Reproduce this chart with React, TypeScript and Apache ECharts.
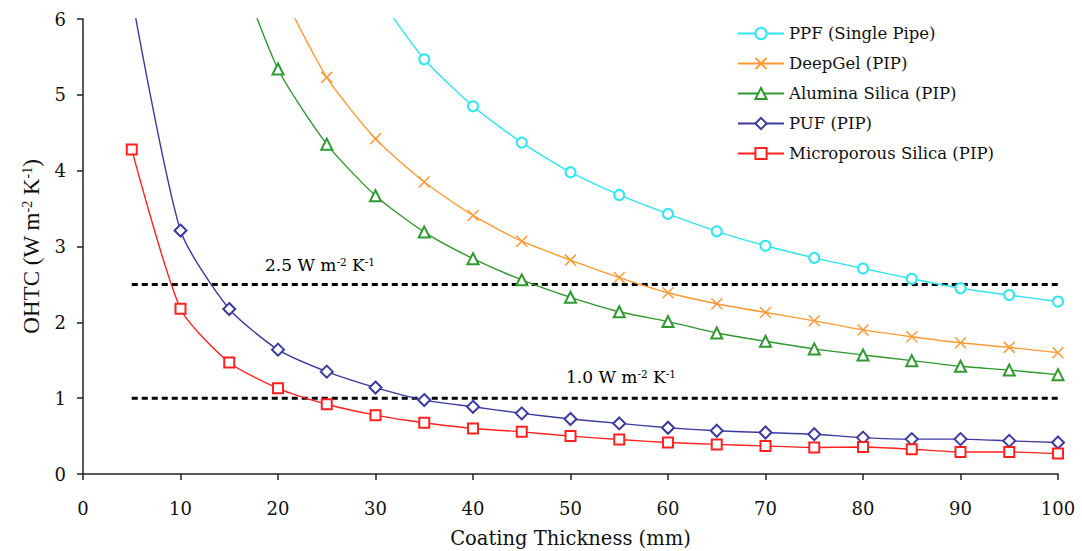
import React, { useEffect, useRef } from "react";
import * as echarts from "echarts";

const THICKNESS = [5, 10, 15, 20, 25, 30, 35, 40, 45, 50, 55, 60, 65, 70, 75, 80, 85, 90, 95, 100];
const PPF = [null, null, null, null, null, 6.35, 5.47, 4.85, 4.37, 3.98, 3.68, 3.43, 3.2, 3.01, 2.85, 2.71, 2.575, 2.45, 2.36, 2.275];
const DEEPGEL = [null, null, null, 6.45, 5.23, 4.42, 3.85, 3.41, 3.07, 2.82, 2.59, 2.39, 2.245, 2.13, 2.02, 1.9, 1.81, 1.73, 1.67, 1.6];
const ALUMINA = [null, null, 7.0, 5.34, 4.35, 3.67, 3.19, 2.84, 2.56, 2.33, 2.14, 2.01, 1.86, 1.75, 1.65, 1.57, 1.495, 1.42, 1.37, 1.31];
const PUF = [6.3, 3.21, 2.175, 1.64, 1.35, 1.14, 0.975, 0.886, 0.8, 0.725, 0.667, 0.61, 0.57, 0.547, 0.525, 0.48, 0.46, 0.46, 0.437, 0.415];
const MICRO = [4.28, 2.18, 1.47, 1.13, 0.92, 0.776, 0.675, 0.6, 0.556, 0.5, 0.455, 0.415, 0.39, 0.37, 0.35, 0.357, 0.327, 0.29, 0.29, 0.27];
const LIMIT_X = [5, 100];
const LIMITS = [2.5, 1.0];
const SERIES_NAMES = ["PPF (Single Pipe)", "DeepGel (PIP)", "Alumina Silica (PIP)", "PUF (PIP)", "Microporous Silica (PIP)"];

const FONT = "'DejaVu Serif', serif";
const TIMES = "'Liberation Serif', serif";
const CROSS = "path://M0,0L10,10M10,0L0,10";

export default function App() {
  const ref = useRef<HTMLDivElement>(null);
  useEffect(() => {
    document.body.style.margin = "0";
    if (!ref.current) return;
    const chart = echarts.init(ref.current, undefined, { renderer: "svg" });
    const pair = (arr: (number | null)[]) => THICKNESS.map((x, i) => [x, arr[i]]);
    const mk = (name: string, data: (number | null)[], color: string, symbol: string, size: number) => ({
      name,
      type: "line",
      data: pair(data),
      smooth: 0.22,
      symbol,
      symbolSize: size,
      showAllSymbol: true,
      lineStyle: { color, width: 1.4 },
      itemStyle: { color, borderColor: color, borderWidth: 1.5 },
      z: 3,
    });
    const limitSeries = LIMITS.map((v) => ({
      name: "limit" + v,
      type: "line",
      data: LIMIT_X.map((x) => [x, v]),
      symbol: "none",
      silent: true,
      lineStyle: { color: "#000", width: 3, type: [6, 4] },
      z: 2,
    }));
    const supRich = {
      n: { fontSize: 17, fontFamily: FONT, color: "#111" },
      s: { fontSize: 10.5, fontFamily: FONT, color: "#111", verticalAlign: "top" },
    };
    chart.setOption({
      animation: false,
      backgroundColor: "#fff",
      grid: { left: 83, right: 24, top: 19, bottom: 77, containLabel: false, outerBoundsMode: "none" },
      legend: {
        data: SERIES_NAMES,
        orient: "vertical",
        left: 732,
        top: 20,
        itemWidth: 46,
        itemHeight: 14,
        itemGap: 13,
        textStyle: { fontSize: 16.5, fontFamily: FONT, color: "#111" },
      },
      xAxis: {
        type: "value",
        min: 0,
        max: 100,
        interval: 10,
        name: "Coating Thickness (mm)",
        nameLocation: "middle",
        nameGap: 54,
        nameTextStyle: { fontSize: 19.5, fontFamily: FONT, color: "#111" },
        axisLine: { lineStyle: { color: "#222", width: 1.5 } },
        axisTick: { show: true, length: 6, lineStyle: { color: "#222", width: 1.5 } },
        axisLabel: { fontSize: 18, fontFamily: FONT, color: "#111", margin: 25 },
        splitLine: { show: false },
      },
      yAxis: {
        type: "value",
        min: 0,
        max: 6,
        interval: 1,
        name: "{n|OHTC (W m}{s|-2}{n| K}{s|-1}{n|)}",
        nameLocation: "middle",
        nameGap: 40,
        nameRotate: 90,
        nameTextStyle: {
          fontSize: 23,
          fontFamily: TIMES,
          color: "#111",
          rich: {
            n: { fontSize: 23, fontFamily: TIMES, color: "#111" },
            s: { fontSize: 14, fontFamily: TIMES, color: "#111", verticalAlign: "top" },
          },
        },
        axisLine: { show: true, lineStyle: { color: "#222", width: 1.5 } },
        axisTick: { show: true, length: 6, lineStyle: { color: "#222", width: 1.5 } },
        axisLabel: { fontSize: 18, fontFamily: FONT, color: "#111", margin: 17 },
        splitLine: { show: false },
      },
      graphic: [
        {
          type: "text",
          x: 265,
          y: 265,
          style: { text: "{n|2.5 W m}{s|-2}{n| K}{s|-1}", rich: supRich, verticalAlign: "middle" },
        },
        {
          type: "text",
          x: 566,
          y: 377,
          style: { text: "{n|1.0 W m}{s|-2}{n| K}{s|-1}", rich: supRich, verticalAlign: "middle" },
        },
      ],
      series: [
        ...limitSeries,
        mk(SERIES_NAMES[0], PPF, "#2EE6F2", "emptyCircle", 10),
        mk(SERIES_NAMES[1], DEEPGEL, "#FF9933", CROSS, 11),
        mk(SERIES_NAMES[2], ALUMINA, "#2E9A2E", "emptyTriangle", 11),
        mk(SERIES_NAMES[3], PUF, "#3A3AA0", "emptyDiamond", 12),
        mk(SERIES_NAMES[4], MICRO, "#FF2020", "emptyRect", 10),
      ],
    });
    return () => chart.dispose();
  }, []);
  return <div ref={ref} style={{ width: 1082, height: 551 }} />;
}
